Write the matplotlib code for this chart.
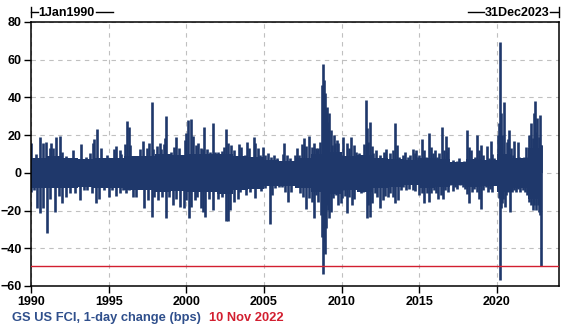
import matplotlib
matplotlib.use("Agg")
from matplotlib import pyplot as plt
from matplotlib.lines import Line2D

plt.rcParams['font.family'] = ['Liberation Sans', 'DejaVu Sans']

up_year = [1990.02, 1990.30, 1990.56, 1990.75, 1990.99, 1991.20, 1991.29, 1991.42, 1991.59, 1991.85,
           1992.02, 1992.27, 1992.68, 1993.20, 1993.54, 1993.82, 1993.97, 1994.08, 1994.23, 1994.51,
           1994.91, 1995.32, 1995.49, 1995.71, 1995.79, 1996.05, 1996.16, 1996.31, 1996.39, 1996.52,
           1996.77, 1997.00, 1997.24, 1997.45, 1997.61, 1997.78, 1997.88, 1998.14, 1998.31, 1998.40,
           1998.55, 1998.66, 1998.70, 1998.87, 1999.02, 1999.19, 1999.32, 1999.54, 1999.80, 1999.92,
           2000.01, 2000.10, 2000.31, 2000.42, 2000.61, 2000.78, 2000.93, 2001.06, 2001.17, 2001.34,
           2001.51, 2001.73, 2001.84, 2002.03, 2002.29, 2002.46, 2002.57, 2002.70, 2002.89, 2003.06,
           2003.23, 2003.42, 2003.53, 2003.75, 2003.90, 2004.07, 2004.35, 2004.43, 2004.61, 2004.76,
           2004.91, 2005.04, 2005.23, 2005.46, 2005.64, 2005.83, 2006.04, 2006.22, 2006.32, 2006.50,
           2006.67, 2006.80, 2006.97, 2007.12, 2007.27, 2007.44, 2007.55, 2007.74, 2007.93, 2008.08,
           2008.21, 2008.34, 2008.43, 2008.51, 2008.60, 2008.71, 2008.79, 2008.86, 2008.94, 2009.01,
           2009.07, 2009.14, 2009.22, 2009.31, 2009.40, 2009.50, 2009.59, 2009.70, 2009.80, 2009.91,
           2010.02, 2010.06, 2010.17, 2010.32, 2010.49, 2010.58, 2010.70, 2010.83, 2010.96, 2011.09,
           2011.24, 2011.35, 2011.46, 2011.56, 2011.63, 2011.71, 2011.80, 2011.93, 2012.04, 2012.21,
           2012.32, 2012.47, 2012.59, 2012.74, 2012.85, 2012.96, 2013.11, 2013.28, 2013.43, 2013.54,
           2013.71, 2013.82, 2013.93, 2014.10, 2014.25, 2014.42, 2014.59, 2014.70, 2014.79, 2014.89,
           2015.00, 2015.17, 2015.32, 2015.43, 2015.62, 2015.75, 2015.86, 2016.01, 2016.12, 2016.25,
           2016.44, 2016.57, 2016.72, 2016.76, 2016.87, 2017.02, 2017.15, 2017.28, 2017.45, 2017.58,
           2017.73, 2017.88, 2018.05, 2018.09, 2018.20, 2018.31, 2018.44, 2018.59, 2018.74, 2018.84,
           2018.95, 2019.08, 2019.23, 2019.36, 2019.49, 2019.59, 2019.70, 2019.83, 2019.94, 2020.02,
           2020.09, 2020.15, 2020.20, 2020.26, 2020.35, 2020.45, 2020.52, 2020.63, 2020.71, 2020.80,
           2020.91, 2021.01, 2021.12, 2021.23, 2021.33, 2021.44, 2021.59, 2021.72, 2021.87, 2021.98,
           2022.09, 2022.19, 2022.30, 2022.39, 2022.45, 2022.52, 2022.60, 2022.69, 2022.77, 2022.84,
           2022.86]
up_val = [15.6, 9.9, 18.8, 16.0, 16.1, 13.0, 16.0, 13.0, 18.8, 19.5,
          11.2, 9.0, 12.1, 15.3, 8.5, 10.3, 16.0, 17.7, 23.0, 13.0,
          9.4, 12.6, 14.5, 12.1, 9.8, 15.3, 27.3, 24.4, 14.7, 8.5,
          6.8, 12.4, 16.8, 13.0, 15.6, 37.5, 12.4, 14.2, 16.0, 12.4,
          15.3, 18.3, 30.1, 7.6, 11.2, 13.8, 19.1, 13.0, 7.6, 17.4,
          20.9, 28.0, 28.3, 19.5, 14.7, 16.0, 13.0, 12.4, 24.1, 12.4,
          11.2, 26.2, 11.2, 11.2, 11.7, 13.8, 23.0, 16.0, 14.7, 12.0,
          6.8, 15.1, 13.9, 9.5, 16.5, 13.3, 19.0, 15.6, 13.0, 9.5,
          13.9, 9.5, 10.3, 8.6, 9.5, 7.7, 5.9, 9.8, 15.6, 9.5,
          7.7, 5.9, 9.5, 13.0, 9.5, 15.1, 18.6, 14.4, 19.7, 13.9,
          15.6, 13.0, 12.1, 13.3, 16.2, 46.6, 57.5, 49.2, 42.2, 34.2,
          35.1, 27.1, 31.6, 22.7, 14.8, 20.1, 15.6, 17.4, 15.6, 11.2,
          9.5, 19.1, 7.6, 15.6, 13.0, 19.1, 8.5, 14.7, 11.2, 10.7,
          7.6, 9.4, 15.3, 38.6, 23.6, 16.5, 27.1, 14.2, 10.3, 12.1,
          6.8, 9.4, 6.8, 11.2, 12.4, 7.6, 10.3, 12.1, 26.6, 14.7,
          8.5, 7.6, 9.4, 11.2, 8.5, 9.4, 12.4, 10.7, 12.1, 8.5,
          9.4, 17.7, 12.1, 8.5, 20.9, 13.8, 10.3, 12.1, 8.5, 10.3,
          24.1, 12.1, 19.5, 11.2, 13.9, 5.9, 6.8, 5.0, 6.3, 8.0,
          5.0, 6.3, 6.8, 22.7, 13.9, 12.1, 7.3, 8.6, 20.0, 12.1,
          14.7, 9.4, 5.9, 14.4, 7.7, 16.9, 9.8, 7.7, 5.9, 2.7,
          20.0, 26.2, 69.6, 31.6, 20.0, 37.7, 6.8, 16.5, 17.9, 22.7,
          13.0, 9.4, 16.9, 7.7, 16.5, 8.6, 7.7, 8.6, 13.9, 8.6,
          20.0, 26.2, 18.3, 31.6, 38.1, 21.8, 28.9, 19.2, 30.7, 14.7,
          14.7]

dn_year = [1990.00, 1990.17, 1990.36, 1990.60, 1990.75, 1991.01, 1991.24, 1991.57, 1991.78, 1991.97,
           1992.23, 1992.53, 1992.85, 1993.13, 1993.39, 1993.61, 1993.95, 1994.21, 1994.36, 1994.68,
           1995.02, 1995.21, 1995.45, 1995.71, 1995.92, 1996.09, 1996.31, 1996.57, 1996.77, 1997.30,
           1997.52, 1997.78, 1997.95, 1998.21, 1998.44, 1998.68, 1998.89, 1999.13, 1999.34, 1999.62,
           1999.84, 2000.01, 2000.16, 2000.31, 2000.53, 2000.70, 2000.93, 2001.08, 2001.23, 2001.49,
           2001.73, 2002.03, 2002.29, 2002.57, 2002.67, 2002.82, 2003.10, 2003.32, 2003.47, 2003.62,
           2003.83, 2004.11, 2004.41, 2004.65, 2004.82, 2005.04, 2005.38, 2005.55, 2005.72, 2005.94,
           2006.15, 2006.37, 2006.54, 2006.75, 2007.01, 2007.18, 2007.33, 2007.51, 2007.70, 2007.91,
           2008.08, 2008.21, 2008.34, 2008.51, 2008.66, 2008.73, 2008.79, 2008.86, 2008.92, 2008.99,
           2009.05, 2009.12, 2009.20, 2009.31, 2009.42, 2009.55, 2009.65, 2009.80, 2009.93, 2010.02,
           2010.06, 2010.21, 2010.34, 2010.49, 2010.66, 2010.83, 2011.03, 2011.24, 2011.39, 2011.61,
           2011.69, 2011.84, 2011.95, 2012.12, 2012.29, 2012.47, 2012.64, 2012.79, 2012.96, 2013.13,
           2013.28, 2013.45, 2013.63, 2013.82, 2013.97, 2014.14, 2014.36, 2014.57, 2014.74, 2014.96,
           2015.17, 2015.32, 2015.47, 2015.62, 2015.77, 2015.92, 2016.07, 2016.20, 2016.40, 2016.50,
           2016.67, 2016.76, 2016.87, 2016.97, 2017.15, 2017.30, 2017.45, 2017.62, 2017.79, 2017.96,
           2018.09, 2018.22, 2018.37, 2018.52, 2018.69, 2018.84, 2018.97, 2019.12, 2019.27, 2019.40,
           2019.55, 2019.70, 2019.83, 2019.98, 2020.13, 2020.20, 2020.24, 2020.33, 2020.41, 2020.50,
           2020.58, 2020.69, 2020.84, 2020.95, 2021.10, 2021.25, 2021.38, 2021.48, 2021.66, 2021.81,
           2021.91, 2022.09, 2022.21, 2022.30, 2022.41, 2022.52, 2022.62, 2022.71, 2022.80, 2022.86]
dn_val = [-10.0, -9.2, -18.9, -21.2, -18.9, -31.8, -13.6, -20.6, -12.3, -16.2,
          -12.7, -10.9, -10.9, -14.5, -9.2, -9.2, -10.9, -16.2, -13.6, -9.2,
          -12.7, -9.2, -12.3, -10.9, -9.2, -10.9, -9.2, -13.0, -13.0, -18.9,
          -14.5, -23.3, -12.7, -14.5, -13.0, -24.2, -12.7, -17.1, -13.6, -18.0,
          -18.9, -14.5, -24.2, -18.0, -14.5, -12.7, -18.9, -20.6, -23.3, -13.6,
          -19.8, -13.6, -12.7, -25.4, -25.4, -19.8, -15.3, -13.6, -10.0, -8.2,
          -11.8, -10.0, -13.5, -7.3, -9.6, -8.2, -27.3, -11.8, -8.2, -7.3,
          -7.3, -10.0, -15.3, -10.0, -6.1, -7.3, -10.9, -12.7, -19.2, -13.5,
          -15.3, -23.8, -11.8, -15.3, -22.4, -33.9, -53.9, -36.5, -43.2, -29.5,
          -17.1, -19.7, -24.1, -20.6, -13.5, -10.0, -11.8, -17.1, -16.2, -13.5,
          -9.2, -12.3, -21.5, -12.7, -17.1, -13.6, -9.2, -10.9, -10.0, -24.2,
          -17.1, -23.3, -16.2, -10.9, -12.7, -18.9, -14.5, -12.3, -12.7, -10.9,
          -12.7, -15.9, -14.5, -9.2, -7.7, -9.2, -8.3, -9.2, -9.5, -11.8,
          -10.9, -16.2, -10.9, -15.3, -10.9, -9.2, -10.9, -13.6, -11.8, -13.6,
          -9.2, -4.7, -10.0, -6.5, -9.7, -7.4, -8.3, -6.5, -7.4, -8.3,
          -11.4, -16.2, -10.0, -8.3, -10.0, -13.6, -19.2, -9.2, -7.4, -10.0,
          -8.3, -10.0, -5.6, -6.5, -13.2, -57.0, -18.9, -16.2, -13.6, -18.0,
          -11.8, -10.0, -20.6, -10.0, -9.2, -10.0, -8.3, -10.0, -9.2, -10.0,
          -11.8, -15.3, -17.1, -19.7, -17.1, -19.7, -17.1, -20.6, -22.4, -49.3]

# dense core of the daily noise, one value per calendar year (1990..2022)
core_year = list(range(1990, 2023))
core_hi = [8, 9, 8, 7.5, 8, 8, 9, 9, 10, 9.5, 10, 10, 10, 9, 8.5, 7, 6.5, 8, 10, 11,
           9, 9.5, 8, 7.5, 7, 8, 7.5, 6, 7.5, 7, 10, 8, 13]
core_lo = [-8, -8, -8, -7.5, -8, -8, -9, -9, -10, -9.5, -10, -10, -11, -9, -8.5, -7, -7, -8, -10, -11,
           -9, -10, -8, -7.5, -6.5, -8, -7.5, -6.5, -7.5, -7, -10, -8, -14]
last_day = 2022.86  # 10 Nov 2022
last_val = -49.3

xticks = [1990, 1995, 2000, 2005, 2010, 2015, 2020]
yticks = [-60, -40, -20, 0, 20, 40, 60, 80]

navy = '#1f386b'
red = '#d21f30'

W, H = 580, 330
fig = plt.figure(figsize=(W / 100, H / 100), dpi=100)
ax = fig.add_axes([31 / W, 1 - 286 / H, (559 - 31) / W, (286 - 22) / H])

# core band as yearly steps, ending on the last observation
fx = core_year + [last_day]
ax.fill_between(fx, core_lo + [core_lo[-1]], core_hi + [core_hi[-1]],
                step='post', color=navy, linewidth=0, zorder=2)
ax.vlines(up_year, 0, up_val, color=navy, linewidth=1.9, zorder=2)
ax.vlines(dn_year, 0, dn_val, color=navy, linewidth=1.9, zorder=2)

ax.axhline(last_val, color=red, linewidth=1, zorder=3)

ax.set_xlim(1990, 2024)
ax.set_ylim(-60, 80)
ax.set_xticks(xticks)
ax.set_yticks(yticks)
ax.grid(True, color='#c0c0c0', linestyle=(0, (4, 4)), linewidth=0.8, zorder=0)
ax.set_axisbelow(True)
for s in ax.spines.values():
    s.set_linewidth(1.1)
    s.set_color('black')
ax.tick_params(axis='both', direction='out', length=5, width=1, labelsize=9, pad=1.5)
ax.tick_params(axis='x', pad=2.5)
for lab in ax.get_xticklabels() + ax.get_yticklabels():
    lab.set_fontweight('bold')


def px(x, y):
    return x / W, 1 - y / H


# date range markers above the plot
def seg(x0, y0, x1, y1):
    a, b = px(x0, y0)
    c, d = px(x1, y1)
    fig.add_artist(Line2D([a, c], [b, d], color='black', linewidth=1, transform=fig.transFigure))


seg(31, 7, 31, 17)
seg(31, 12, 38, 12)
seg(96, 12, 113, 12)
fig.text(*px(38.5, 12.5), '1Jan1990', fontsize=9, fontweight='bold', ha='left', va='center')
seg(468, 12, 484, 12)
seg(550, 12, 558, 12)
seg(559, 7, 559, 17)
fig.text(*px(549.5, 12.5), '31Dec2023', fontsize=9, fontweight='bold', ha='right', va='center')

fig.text(*px(12, 318), 'GS US FCI, 1-day change (bps)', fontsize=9.3, fontweight='bold',
         color='#2f4f8c', ha='left', va='center')
fig.text(*px(209, 318), '10 Nov 2022', fontsize=9.3, fontweight='bold',
         color=red, ha='left', va='center')

fig.savefig('out.png', dpi=100)
